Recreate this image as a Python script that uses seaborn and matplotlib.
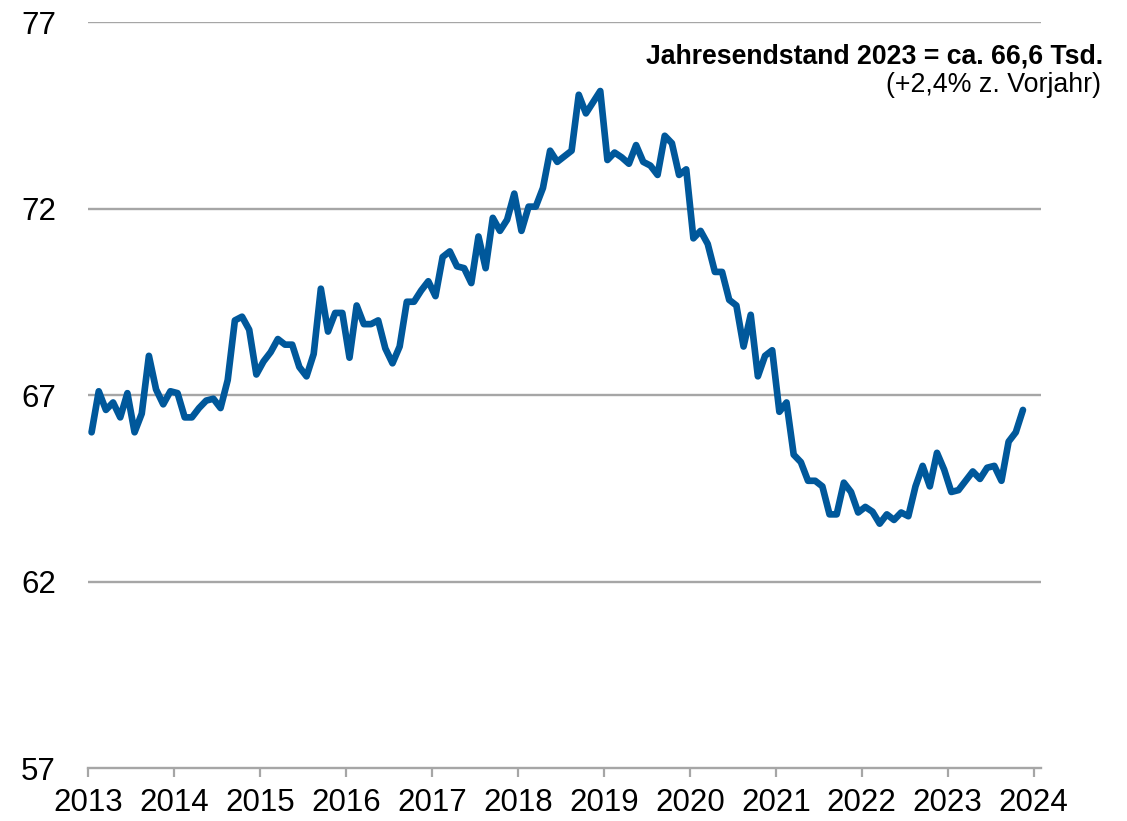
import numpy as np
import pandas as pd
import matplotlib
matplotlib.use("Agg")
import matplotlib.pyplot as plt
import seaborn as sns

# Monthly values (Tsd.), Jan 2013 - Nov 2023
v2013 = [66.0, 67.1, 66.6, 66.8, 66.4, 67.05, 66.0, 66.5, 68.05, 67.15, 66.75, 67.1]
v2014 = [67.05, 66.4, 66.4, 66.65, 66.85, 66.9, 66.65, 67.4, 69.0, 69.1, 68.75, 67.55]
v2015 = [67.9, 68.15, 68.5, 68.35, 68.35, 67.75, 67.5, 68.1, 69.85, 68.7, 69.2, 69.2]
v2016 = [68.0, 69.4, 68.9, 68.9, 69.0, 68.25, 67.85, 68.3, 69.5, 69.5, 69.8, 70.05]
v2017 = [69.65, 70.7, 70.85, 70.45, 70.4, 70.0, 71.25, 70.4, 71.75, 71.4, 71.7, 72.4]
v2018 = [71.4, 72.05, 72.05, 72.55, 73.55, 73.25, 73.4, 73.55, 75.05, 74.55, 74.85, 75.15]
v2019 = [73.3, 73.5, 73.37, 73.2, 73.7, 73.25, 73.15, 72.9, 73.95, 73.75, 72.9, 73.05]
v2020 = [71.2, 71.4, 71.05, 70.3, 70.3, 69.55, 69.4, 68.3, 69.15, 67.5, 68.05, 68.2]
v2021 = [66.55, 66.8, 65.4, 65.2, 64.7, 64.7, 64.55, 63.8, 63.8, 64.65, 64.4, 63.85]
v2022 = [64.0, 63.87, 63.55, 63.8, 63.65, 63.85, 63.75, 64.55, 65.1, 64.55, 65.45, 65.0]
v2023 = [64.4, 64.45, 64.7, 64.95, 64.75, 65.05, 65.1, 64.7, 65.75, 66.0, 66.6]

years = list(range(2013, 2024))
yearly = [v2013, v2014, v2015, v2016, v2017, v2018, v2019, v2020, v2021, v2022, v2023]

x_ticks = list(range(2013, 2025))
y_ticks = [57, 62, 67, 72, 77]

title_line1 = "Jahresendstand 2023 = ca. 66,6 Tsd."
title_line2 = "(+2,4% z. Vorjahr)"

rows = []
for yr, vals in zip(years, yearly):
    for m, v in enumerate(vals):
        rows.append({"t": yr + (m + 0.5) / 12.0, "value": v})
df = pd.DataFrame(rows)

sns.set_style("white")
plt.rcParams["font.family"] = ["Liberation Sans", "DejaVu Sans"]

W, H = 1127, 821
fig = plt.figure(figsize=(W / 100, H / 100), dpi=100)
ax = fig.add_axes([88 / W, (H - 768) / H, (1040.7 - 88) / W, (768 - 22) / H])

grid_c = "#a6a6a6"
for yv in y_ticks[1:]:
    ax.axhline(yv, color=grid_c, lw=1.7, zorder=1)

line_c = "#00589b"
sns.lineplot(data=df, x="t", y="value", color=line_c, linewidth=4.8, ax=ax, zorder=3)
for ln in ax.lines:
    ln.set_solid_capstyle("round")
    ln.set_solid_joinstyle("round")

ax.set_xlim(2013, 2013 + (1040.7 - 87.7) / 86.0)
ax.set_ylim(57, 77)
ax.set_xticks(x_ticks)
ax.set_xticklabels([str(t) for t in x_ticks])
ax.set_yticks(y_ticks)
ax.set_yticklabels([str(t) for t in y_ticks])
ax.set_xlabel("")
ax.set_ylabel("")

for s in ["top", "right", "left"]:
    ax.spines[s].set_visible(False)
ax.spines["bottom"].set_color(grid_c)
ax.spines["bottom"].set_linewidth(1.7)
ax.spines["bottom"].set_zorder(1)

ax.tick_params(axis="x", bottom=True, direction="out", length=6.5, width=1.6, color=grid_c,
               labelsize=22.5, pad=8, labelcolor="black")
ax.tick_params(axis="y", left=False, length=0, labelsize=22.5, pad=23, labelcolor="black")
ax.patch.set_alpha(0)

fig.text(1103 / W, (H - 63) / H, title_line1, ha="right", va="baseline",
         fontsize=19.2, fontweight="bold", color="black")
fig.text(1101 / W, (H - 91.5) / H, title_line2, ha="right", va="baseline",
         fontsize=19.3, color="black")

fig.savefig("out.png", dpi=100)
